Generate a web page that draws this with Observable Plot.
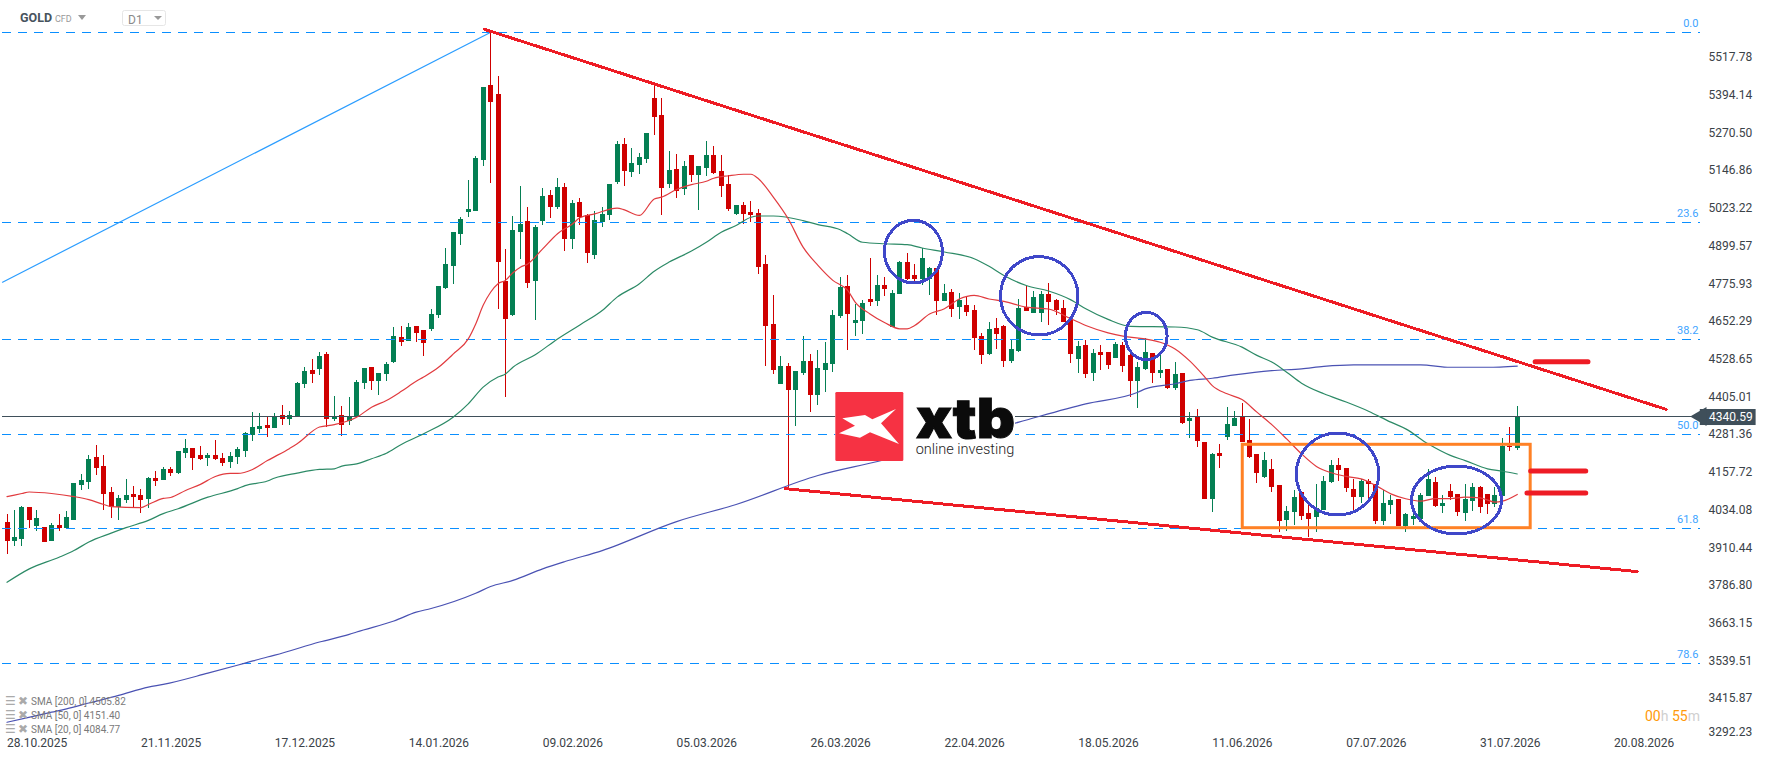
<!DOCTYPE html>
<html>
<head>
<meta charset="utf-8">
<script src="https://cdn.jsdelivr.net/npm/d3@7"></script>
<script src="https://cdn.jsdelivr.net/npm/@observablehq/plot@0.6"></script>
<style>
html,body{margin:0;padding:0;background:#fff}
#page{position:relative;width:1768px;height:761px;overflow:hidden;font-family:Roboto,sans-serif}
#page svg{display:block}
.ov{position:absolute;white-space:nowrap;line-height:1}
</style>
</head>
<body>
<div id="page"></div>
<script>
const opens = [3993,3931,3937,4042,3980,3976,3931,3983,3973,3999,
4114,4124,4206,4177,4091,4042,4065,4085,4082,4068,
4137,4131,4167,4154,4219,4236,4213,4203,4213,4203,
4190,4206,4226,4278,4298,4311,4301,4344,4331,4340,
4446,4491,4495,4544,4331,4344,4324,4337,4449,4501,
4455,4478,4518,4600,4587,4636,4623,4626,4672,4760,
4833,4937,5010,5013,5180,5426,5396,4783,4672,4944,
4980,4783,4980,5065,5026,5092,4921,5042,5000,4869,
4977,5000,5108,5232,5141,5164,5183,5383,5328,5101,
5151,5085,5196,5131,5154,5196,5144,5101,5003,5033,
5010,5006,4839,4642,4446,4505,4426,4482,4521,4409,
4491,4511,4668,4767,4646,4652,4724,4718,4770,4632,
4741,4846,4803,4790,4789,4826,4718,4747,4698,4705,
4688,4603,4544,4629,4636,4521,4554,4698,4678,4678,
4741,4721,4695,4655,4527,4573,4482,4550,4550,4531,
4573,4541,4455,4495,4547,4482,4495,4432,4482,4324,
4337,4255,4068,4219,4272,4308,4337,4262,4216,4141,
4167,4114,4000,4026,4091,4022,4009,4032,4124,4180,
4170,4101,4075,4127,4118,3996,4049,4068,3980,4003,
4003,4078,4124,4045,4095,4085,4022,4062,4108,4085,
4052,4078,4242,4236];
const closes = [3931,3944,4042,3999,4006,3927,3983,3973,4009,4121,
4131,4200,4170,4085,4042,4072,4082,4075,4065,4137,
4127,4167,4154,4226,4236,4203,4200,4213,4200,4186,
4209,4232,4285,4305,4308,4301,4337,4331,4344,4449,
4488,4478,4537,4331,4337,4311,4337,4452,4498,4455,
4482,4511,4603,4583,4633,4613,4580,4675,4767,4839,
4944,4987,5019,5187,5420,5370,4846,4659,4950,4970,
4777,4960,5062,5026,5092,4921,5039,4993,4875,4983,
5003,5101,5232,5144,5170,5190,5269,5321,5088,5147,
5078,5160,5131,5160,5196,5137,5095,5019,5033,5003,
5000,4829,4636,4491,4505,4426,4488,4521,4409,4498,
4514,4672,4764,4675,4655,4711,4714,4770,4757,4744,
4846,4790,4790,4859,4826,4718,4744,4692,4721,4682,
4596,4541,4626,4610,4521,4560,4695,4685,4731,4741,
4714,4688,4649,4544,4570,4478,4547,4541,4508,4577,
4505,4455,4501,4550,4482,4491,4432,4478,4318,4334,
4259,4068,4216,4209,4314,4334,4255,4206,4154,4196,
4108,3996,4029,4075,4013,4003,4039,4127,4180,4163,
4104,4075,4127,4118,3996,4055,4065,3980,4019,4013,
4082,4134,4045,4055,4075,4026,4068,4108,4042,4052,
4082,4242,4239,4340.59];
const highs = [4019,4032,4045,4042,4032,3976,3989,4019,4029,4121,
4150,4213,4245,4213,4108,4082,4134,4111,4101,4141,
4160,4173,4173,4226,4265,4236,4242,4219,4262,4219,
4223,4239,4288,4354,4350,4337,4350,4377,4357,4452,
4501,4528,4550,4550,4406,4373,4403,4459,4498,4501,
4482,4518,4633,4636,4646,4636,4623,4692,4767,4892,
4944,4993,5114,5193,5420,5599,5455,4888,4996,5095,
5026,4967,5088,5082,5121,5105,5049,5055,5003,5013,
5026,5101,5242,5252,5219,5203,5269,5423,5383,5210,
5200,5177,5196,5160,5242,5226,5196,5131,5033,5042,
5046,5019,4869,4737,4537,4514,4488,4603,4544,4557,
4583,4688,4796,4803,4708,4721,4859,4803,4796,4754,
4849,4875,4839,4891,4829,4826,4774,4757,4744,4731,
4705,4613,4649,4662,4639,4593,4724,4767,4751,4751,
4777,4724,4721,4655,4587,4590,4560,4573,4550,4583,
4583,4550,4518,4596,4547,4541,4495,4518,4482,4354,
4364,4255,4219,4249,4370,4357,4383,4331,4216,4223,
4200,4114,4045,4098,4091,4049,4118,4144,4196,4203,
4170,4134,4134,4134,4118,4098,4082,4068,4022,4049,
4088,4167,4141,4082,4118,4085,4118,4121,4111,4085,
4108,4268,4304,4373];
const lows = [3888,3914,3914,3973,3965,3927,3931,3964,3973,3999,
4098,4101,4147,4032,4006,3999,4055,4039,4023,4039,
4111,4131,4144,4150,4203,4164,4196,4177,4196,4177,
4170,4183,4206,4259,4285,4272,4301,4311,4311,4340,
4432,4449,4475,4306,4324,4275,4311,4337,4429,4426,
4410,4455,4514,4570,4587,4583,4537,4619,4662,4757,
4773,4901,4993,5013,5160,5105,4691,4403,4668,4855,
4760,4655,4967,4990,5019,4882,4888,4967,4842,4855,
4960,4983,5101,5095,5124,5134,5170,5262,5000,5088,
5055,5065,5108,5016,5128,5134,5059,5013,5000,4970,
4977,4806,4505,4478,4446,4103,4308,4475,4354,4377,
4419,4485,4662,4557,4603,4610,4701,4701,4734,4632,
4741,4787,4780,4770,4737,4672,4718,4665,4659,4669,
4557,4511,4541,4560,4501,4514,4550,4685,4678,4649,
4639,4672,4649,4514,4482,4465,4455,4491,4495,4531,
4485,4403,4367,4491,4449,4465,4429,4426,4314,4268,
4239,4068,4026,4170,4262,4308,4255,4203,4121,4137,
4091,3960,3963,3983,4000,3944,3960,4032,4121,4127,
4091,4029,4055,4072,3986,3983,4019,3980,3960,3983,
4000,4078,4042,4022,4065,4013,3996,4029,4022,4019,
4042,4078,4226,4229];

const sma20 = [[0,4078],[2,4088],[3,4093],[6,4088],[9,4078],[11,4068],[13,4052],[14,4045],[18,4042],[19,4052],[21,4072],[22,4075],[24,4098],[26,4118],[28,4144],[30,4154],[31,4154],[33,4167],[35,4196],[38,4236],[39,4251],[42,4306],[44,4314],[47,4338],[49,4371],[51,4393],[53,4423],[55,4456],[56,4470],[58,4502],[60,4546],[62,4595],[63,4644],[64,4705],[65,4748],[66,4776],[67,4787],[68,4812],[69,4830],[70,4841],[72,4890],[74,4940],[76,4972],[77,4992],[79,5005],[82,5024],[83,5018],[85,5000],[87,5054],[88,5060],[90,5085],[92,5101],[94,5112],[95,5122],[97,5130],[99,5135],[100,5135],[101,5120],[103,5060],[105,4989],[107,4896],[109,4836],[111,4787],[113,4754],[114,4716],[116,4677],[118,4648],[120,4628],[121,4628],[122,4639],[124,4677],[126,4694],[128,4726],[130,4738],[132,4726],[134,4718],[137,4699],[140,4693],[143,4661],[145,4639],[148,4615],[150,4604],[153,4595],[155,4584],[157,4562],[159,4522],[161,4470],[162,4442],[164,4415],[166,4396],[168,4355],[170,4314],[172,4267],[174,4218],[176,4177],[178,4156],[180,4144],[182,4136],[184,4114],[186,4087],[188,4071],[190,4063],[192,4071],[194,4071],[196,4076],[198,4074],[200,4060],[201,4063],[203,4085]];
const sma50 = [[0,3797],[3,3841],[7,3879],[9,3901],[11,3929],[14,3958],[16,3976],[19,4000],[21,4022],[23,4038],[27,4076],[31,4104],[32,4114],[35,4129],[36,4139],[39,4155],[42,4167],[44,4169],[45,4178],[47,4185],[49,4202],[51,4220],[53,4249],[56,4284],[60,4339],[62,4382],[64,4437],[66,4470],[67,4480],[68,4502],[71,4543],[74,4595],[77,4641],[80,4688],[82,4732],[85,4776],[87,4817],[89,4847],[92,4883],[94,4912],[96,4945],[98,4967],[100,4994],[101,4998],[103,4998],[107,4983],[109,4970],[112,4953],[113,4940],[115,4912],[118,4907],[121,4904],[123,4893],[126,4880],[130,4858],[132,4833],[134,4803],[137,4770],[140,4752],[143,4723],[145,4694],[148,4659],[151,4636],[157,4634],[160,4625],[162,4601],[166,4568],[168,4541],[170,4519],[172,4486],[174,4450],[177,4415],[180,4388],[183,4358],[186,4322],[188,4300],[191,4251],[194,4213],[196,4196],[199,4169],[201,4161],[203,4152]];
const sma200 = [[0,3338],[6,3371],[8,3382],[11,3401],[15,3426],[19,3453],[21,3462],[27,3499],[32,3532],[35,3552],[36,3558],[42,3601],[46,3626],[47,3634],[52,3670],[55,3699],[57,3711],[63,3761],[65,3783],[68,3803],[72,3841],[75,3865],[80,3901],[90,3996],[98,4052],[109,4147],[117,4193],[136,4322],[145,4382],[152,4420],[153,4431],[157,4448],[159,4459],[162,4466],[165,4477],[170,4491],[174,4497],[177,4505],[181,4510],[190,4510],[194,4502],[199,4502],[203,4506]];

const yTickValues = [5517.78,5394.14,5270.50,5146.86,5023.22,4899.57,4775.93,4652.29,4528.65,4405.01,4281.36,4157.72,4034.08,3910.44,3786.80,3663.15,3539.51,3415.87];
const yTickClamped = [3292.23];
const dateLabels = ["28.10.2025","21.11.2025","17.12.2025","14.01.2026","09.02.2026","05.03.2026","26.03.2026","22.04.2026","18.05.2026","11.06.2026","07.07.2026","31.07.2026","20.08.2026"];
const dateIndices = [0,18,36,54,72,90,108,126,144,162,180,198,216];
const fibLevels = ["0.0","23.6","38.2","50.0","61.8","78.6"];
const fibPrices = [5599.8,4976.7,4593.1,4281.6,3973.3,3530.6];
const lastPrice = 4340.59;
const smaLegend = ["SMA [200, 0] 4505.82","SMA [50, 0] 4151.40","SMA [20, 0] 4084.77"];

// drawn lines: [index, price] pairs
const fibSwing = [[-0.6,4781],[64.9,5599]];
const upperTrend = [[64.2,5610],[223,4364]];
const lowerTrend = [[104.6,4104],[219.1,3832]];
const targetBars = [[[205.4,4520],[212.5,4520]],[[204.8,4162],[212.2,4162]],[[204.3,4090],[212.2,4090]]];
const rangeBox = {x1:166.1,x2:204.8,y1:3974.3,y2:4247.8};
// cx, cy, half width (in candles), half height (in price)
const circles = [[121.9,4879.4,3.9,102.6],[138.8,4734.8,5.2,128.5],[153.2,4602.9,2.8,77.7],[178.9,4150.4,5.54,134.4],[194.9,4065.1,6.05,111.5]];

const GREEN="#047f53", RED="#cf0000", FIB="#0a8fff", LINE="#3f4f5a", TREND="#ee1c25";
const candles = d3.range(opens.length).map(i=>({i,o:opens[i],c:closes[i],h:highs[i],l:lows[i],col:closes[i]>=opens[i]?GREEN:RED}));
const fib = fibLevels.map((label,k)=>({label,price:fibPrices[k]}));
const xAt = 227.6;

const ellipses = (index,{x,y})=>{
  const g=d3.create("svg:g").attr("fill","none").attr("stroke","#3f47c9").attr("stroke-width",3).attr("shape-rendering","crispEdges");
  g.selectAll("ellipse").data(circles).join("ellipse")
    .attr("cx",d=>x(d[0])).attr("cy",d=>y(d[1]))
    .attr("rx",d=>x(d[0]+d[2])-x(d[0])).attr("ry",d=>y(d[1]-d[3])-y(d[1]));
  return g.node();
};

const chart = Plot.plot({
  width:1768,height:761,
  marginLeft:0,marginRight:60,marginTop:0,marginBottom:28,
  x:{domain:[-0.874,228.7],range:[0,1708]},
  y:{domain:[3301.1,5704.7],range:[733,0]},
  style:{fontFamily:"Roboto, sans-serif",fontSize:"12px",background:"#fff",color:"#3a4248",overflow:"visible"},
  marks:[
    Plot.axisY({anchor:"right",ticks:yTickValues,tickFormat:d=>d.toFixed(2),tickSize:0,tickPadding:0,textAnchor:"start",label:null,fontSize:12}),
    Plot.axisY({anchor:"right",ticks:yTickClamped,tickFormat:d=>d.toFixed(2),tickSize:0,tickPadding:0,textAnchor:"start",label:null,dy:-4,fontSize:12}),
    Plot.axisX({anchor:"bottom",ticks:dateIndices,tickFormat:d=>dateLabels[dateIndices.indexOf(d)],tickSize:0,tickPadding:5,textAnchor:"start",label:null,fontSize:12}),
    Plot.ruleX(candles,{x:"i",y1:"l",y2:"h",stroke:"col",strokeWidth:1,shapeRendering:"crispEdges"}),
    Plot.ruleX(candles,{x:"i",y1:"o",y2:"c",stroke:"col",strokeWidth:5,shapeRendering:"crispEdges"}),
    Plot.ruleY(fib,{y:"price",x1:-0.6,x2:xAt,stroke:FIB,strokeWidth:1,strokeDasharray:"9 7",shapeRendering:"crispEdges"}),
    Plot.text(fib,{x:xAt-0.25,y:"price",text:"label",fill:"#3ea4ff",fontSize:11,textAnchor:"end",dy:-9}),
    Plot.ruleY([lastPrice],{x1:-0.6,x2:xAt,stroke:LINE,strokeWidth:1,shapeRendering:"crispEdges"}),
    Plot.line(sma200,{x:"0",y:"1",stroke:"#4a52b3",strokeWidth:1.2,curve:"monotone-x"}),
    Plot.line(sma50,{x:"0",y:"1",stroke:"#2c8a66",strokeWidth:1.2,curve:"monotone-x"}),
    Plot.line(sma20,{x:"0",y:"1",stroke:"#e13b3f",strokeWidth:1.2,curve:"monotone-x"}),
    Plot.line(fibSwing,{x:"0",y:"1",stroke:"#2b9dff",strokeWidth:1.2}),
    Plot.rect([rangeBox],{x1:"x1",x2:"x2",y1:"y1",y2:"y2",fill:"none",stroke:"#ff8125",strokeWidth:3}),
    Plot.line(upperTrend,{x:"0",y:"1",stroke:TREND,strokeWidth:3,shapeRendering:"crispEdges"}),
    Plot.line(lowerTrend,{x:"0",y:"1",stroke:TREND,strokeWidth:3,shapeRendering:"crispEdges"}),
    ...targetBars.map(b=>Plot.line(b,{x:"0",y:"1",stroke:TREND,strokeWidth:5,strokeLinecap:"round"})),
    ellipses,
    Plot.rect([lastPrice],{x1:227.6,x2:235.1,y1:4311,y2:4363.5,fill:LINE}),
    Plot.dot([lastPrice],{x:227.7,y:d=>d,symbol:"triangle",r:7,rotate:-90,fill:LINE,stroke:"none"}),
    Plot.text([lastPrice],{x:231.7,y:d=>d,text:d=>d.toFixed(2),fill:"#fff",fontSize:12,dy:1})
  ]
});
const page=document.getElementById("page");
page.appendChild(chart);

const add=(html)=>{const t=document.createElement("template");t.innerHTML=html.trim();page.appendChild(t.content.firstChild);};
// symbol selector
add(`<div class="ov" style="left:20px;top:12px;font-size:12.5px;font-weight:700;color:#47535d">GOLD</div>`);
add(`<div class="ov" style="left:55px;top:15px;font-size:9px;color:#999">CFD</div>`);
add(`<svg class="ov" style="left:0;top:0" width="200" height="40"><path d="M78 15h8l-4 5z" fill="#999"/><rect x="122.5" y="10.5" width="43" height="15" rx="2" fill="#fff" stroke="#e6e6e6"/><text x="128" y="24" font-size="12" fill="#8a8a8a">D1</text><path d="M154 16h8l-4 4z" fill="#999"/></svg>`);
// SMA legend
smaLegend.forEach((s,k)=>{
  const top=697+14*k;
  add(`<div class="ov" style="left:5px;top:${top-2}px;font-size:12px;font-family:'DejaVu Sans';color:#aaaaaa">☰</div>`);
  add(`<div class="ov" style="left:18px;top:${top-2}px;font-size:12px;font-family:'DejaVu Sans';color:#aaaaaa">✖</div>`);
  add(`<div class="ov" style="left:31px;top:${top}px;font-size:10px;color:#7a7a7a">${s}</div>`);
});
// countdown
add(`<div class="ov" style="left:1645px;top:709px;font-size:14px;color:#cfcfcf"><span style="color:#ff9a0a">00</span>h <span style="color:#ff9a0a">55</span>m</div>`);
// logo
add(`<svg class="ov" style="left:820px;top:380px" width="220" height="97" viewBox="0 0 660 291">
<rect x="46" y="36" width="539" height="207" fill="#fff"/>
<rect x="46" y="36" width="204" height="207" rx="4" fill="#f63243"/>
<path d="M67 115L135 105L157 118L228 87L183 130L237 192L150 157L120 173L57 160L105 137Z" fill="#fff"/>
<text x="288" y="175" font-family="Inter,Lato,sans-serif" font-weight="900" font-size="165" textLength="297" lengthAdjust="spacingAndGlyphs" fill="#0b0b0b" stroke="#0b0b0b" stroke-width="3">xtb</text>
<text x="287" y="222" font-family="Roboto,sans-serif" font-weight="300" font-size="42" textLength="296" lengthAdjust="spacingAndGlyphs" fill="#222">online investing</text>
</svg>`);
</script>
</body>
</html>
